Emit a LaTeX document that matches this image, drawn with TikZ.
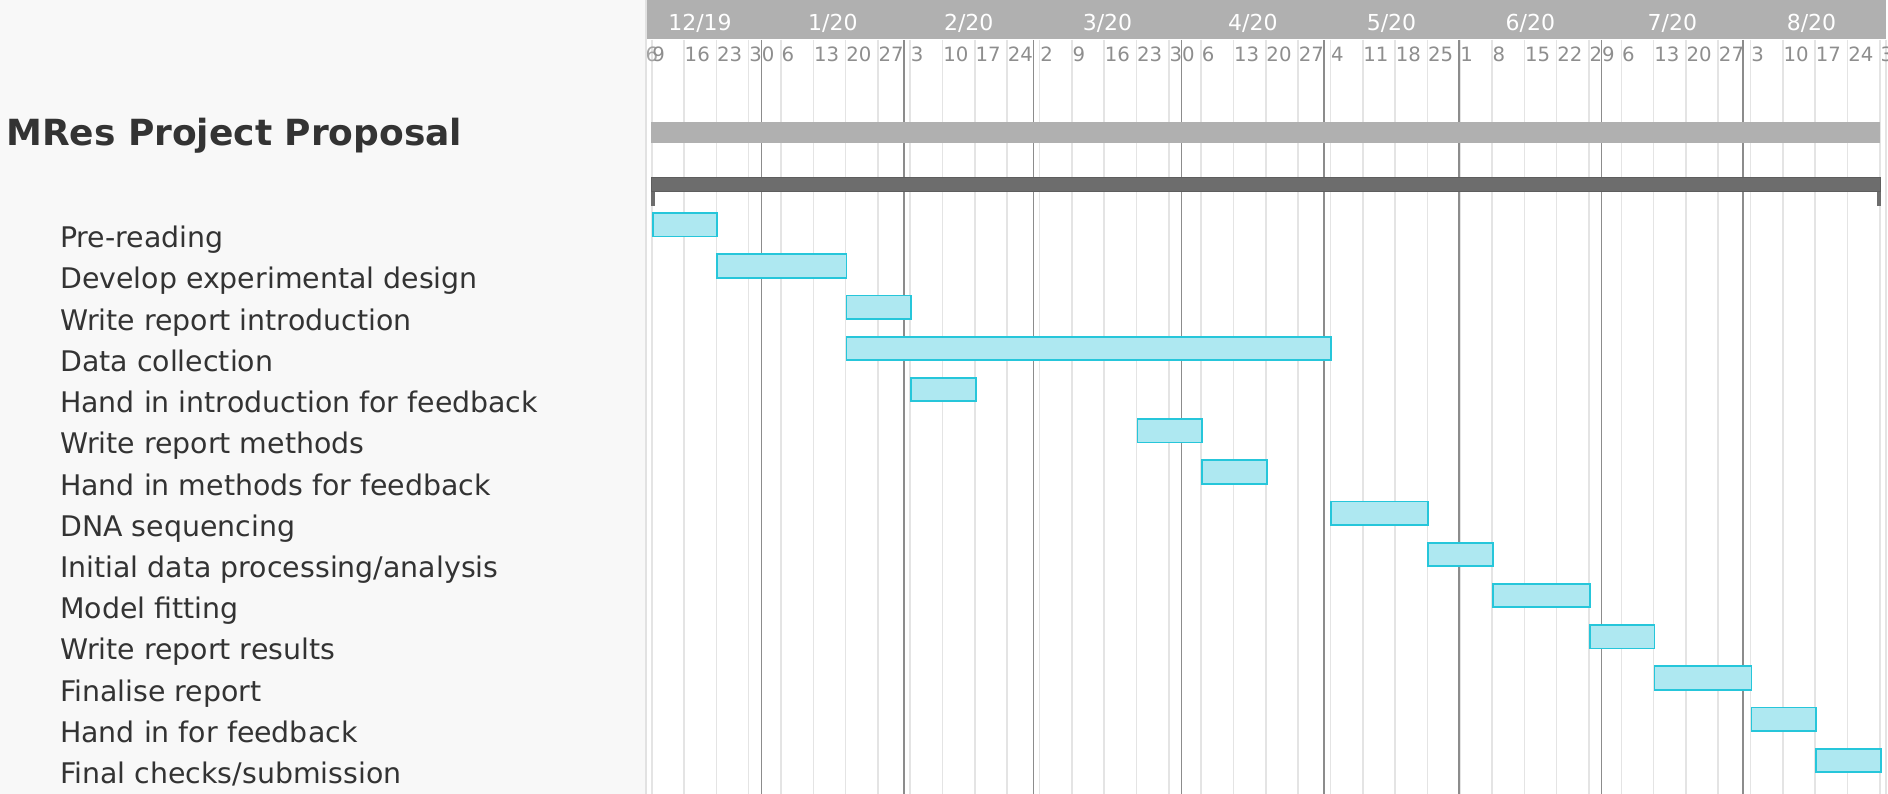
\documentclass[tikz,border=0pt]{standalone}
\usepackage{fontspec}
\setmainfont{DejaVu Sans}
\definecolor{panelbg}{HTML}{F8F8F8}
\definecolor{panelrule}{HTML}{E2E2E2}
\definecolor{headgray}{HTML}{B0B0B0}
\definecolor{weekgray}{HTML}{8E8E8E}
\definecolor{gridlight}{HTML}{E4E4E4}
\definecolor{griddark}{HTML}{8C8C8C}
\definecolor{textdark}{HTML}{333333}
\definecolor{barfill}{HTML}{AEE8F1}
\definecolor{barline}{HTML}{26C6DA}
\definecolor{groupfill}{HTML}{6D6D6D}
\definecolor{groupline}{HTML}{5E5E5E}
\newcommand{\wk}[1]{651.7+32.32*#1}
\newcommand{\rowy}[1]{224.8+41.2*(#1-1)}
\begin{document}
\begin{tikzpicture}[x=1pt,y=-1pt,
  tasklabel/.style={anchor=base west, inner sep=0pt, text=textdark, font=\fontsize{28.4}{32}\selectfont},
  titlelabel/.style={anchor=base west, inner sep=0pt, text=textdark, font=\fontsize{36}{40}\selectfont\bfseries},
  weeklabel/.style={anchor=base west, inner sep=0pt, text=weekgray, font=\fontsize{19.7}{22}\selectfont},
  monthlabel/.style={anchor=base, inner sep=0pt, text=white, font=\fontsize{22}{26}\selectfont},
  taskbar/.style={draw=barline, fill=barfill, line width=1.8pt, minimum height=23.4pt, inner sep=0pt, anchor=west},
  lightline/.style={draw=gridlight, line width=1.6pt},
  darkline/.style={draw=griddark, line width=1.4pt}
]
\useasboundingbox (0,0) rectangle (1888,794);
% left panel
\fill[panelbg] (0,0) rectangle (645,794);
\draw[panelrule, line width=2pt] (646,0) -- (646,794);
% chart region
\begin{scope}
\clip (647,0) rectangle (1887,794);
\fill[white] (647,0) rectangle (1887,794);
\fill[headgray] (647,0) rectangle (1886,39.5);
% weekly grid lines
\foreach \w in {0,...,38} {
  \draw[lightline] ({\wk{\w}},40) -- ({\wk{\w}},794);
}
\draw[lightline] (1886,40) -- (1886,794);
% month lines
\foreach \mx in {761.7,904,1033.3,1181.7,1324,1459,1601.7,1743} {
  \draw[darkline] (\mx,40) -- (\mx,794);
}
% month labels
\node[monthlabel] (m12) at (700,31) {12/19};
\node[monthlabel] (m1) at (832.9,31) {1/20};
\node[monthlabel] (m2) at (968.7,31) {2/20};
\node[monthlabel] (m3) at (1107.5,31) {3/20};
\node[monthlabel] (m4) at (1252.9,31) {4/20};
\node[monthlabel] (m5) at (1391.5,31) {5/20};
\node[monthlabel] (m6) at (1530.3,31) {6/20};
\node[monthlabel] (m7) at (1672.3,31) {7/20};
\node[monthlabel] (m8) at (1811.5,31) {8/20};
% week labels
\node[weeklabel, text=weekgray!80] (wstart) at (645.5,61.5) {6};
\foreach \w/\d in {0/9,1/16,2/23,3/30,4/6,5/13,6/20,7/27,8/3,9/10,10/17,11/24,12/2,13/9,14/16,15/23,16/30,17/6,18/13,19/20,20/27,21/4,22/11,23/18,24/25,25/1,26/8,27/15,28/22,29/29,30/6,31/13,32/20,33/27,34/3,35/10,36/17,37/24,38/31} {
  \node[weeklabel] (wl\w) at ({\wk{\w}+0.5},61.5) {\d};
}
% summary bars
\node[fill=headgray, inner sep=0pt, minimum width=1229pt, minimum height=21.6pt, anchor=west] (summary) at (651,132.5) {};
\node[fill=groupfill, draw=groupline, line width=0.8pt, inner sep=0pt, minimum width=1229pt, minimum height=14pt, anchor=north west] (group) at (651,177) {};
\fill[groupfill] (group.south west) rectangle ++(4,14);
\fill[groupfill] (group.south east) rectangle ++(-4,14);
% task bars
\node[taskbar, minimum width={32.32*2}] (b1) at ({\wk{0}},{\rowy{1}}) {};
\node[taskbar, minimum width={32.32*4}] (b2) at ({\wk{2}},{\rowy{2}}) {};
\node[taskbar, minimum width={32.32*2}] (b3) at ({\wk{6}},{\rowy{3}}) {};
\node[taskbar, minimum width={32.32*15}] (b4) at ({\wk{6}},{\rowy{4}}) {};
\node[taskbar, minimum width={32.32*2}] (b5) at ({\wk{8}},{\rowy{5}}) {};
\node[taskbar, minimum width={32.32*2}] (b6) at ({\wk{15}},{\rowy{6}}) {};
\node[taskbar, minimum width={32.32*2}] (b7) at ({\wk{17}},{\rowy{7}}) {};
\node[taskbar, minimum width={32.32*3}] (b8) at ({\wk{21}},{\rowy{8}}) {};
\node[taskbar, minimum width={32.32*2}] (b9) at ({\wk{24}},{\rowy{9}}) {};
\node[taskbar, minimum width={32.32*3}] (b10) at ({\wk{26}},{\rowy{10}}) {};
\node[taskbar, minimum width={32.32*2}] (b11) at ({\wk{29}},{\rowy{11}}) {};
\node[taskbar, minimum width={32.32*3}] (b12) at ({\wk{31}},{\rowy{12}}) {};
\node[taskbar, minimum width={32.32*2}] (b13) at ({\wk{34}},{\rowy{13}}) {};
\node[taskbar, minimum width={32.32*2}] (b14) at ({\wk{36}},{\rowy{14}}) {};
\end{scope}
% title and task labels
\node[titlelabel] (title) at (6,145.5) {MRes Project Proposal};
\node[tasklabel] (t1) at (60,{\rowy{1}+23}) {Pre-reading};
\node[tasklabel] (t2) at (60,{\rowy{2}+23}) {Develop experimental design};
\node[tasklabel] (t3) at (60,{\rowy{3}+23}) {Write report introduction};
\node[tasklabel] (t4) at (60,{\rowy{4}+23}) {Data collection};
\node[tasklabel] (t5) at (60,{\rowy{5}+23}) {Hand in introduction for feedback};
\node[tasklabel] (t6) at (60,{\rowy{6}+23}) {Write report methods};
\node[tasklabel] (t7) at (60,{\rowy{7}+23}) {Hand in methods for feedback};
\node[tasklabel] (t8) at (60,{\rowy{8}+23}) {DNA sequencing};
\node[tasklabel] (t9) at (60,{\rowy{9}+23}) {Initial data processing/analysis};
\node[tasklabel] (t10) at (60,{\rowy{10}+23}) {Model fitting};
\node[tasklabel] (t11) at (60,{\rowy{11}+23}) {Write report results};
\node[tasklabel] (t12) at (60,{\rowy{12}+23}) {Finalise report};
\node[tasklabel] (t13) at (60,{\rowy{13}+23}) {Hand in for feedback};
\node[tasklabel] (t14) at (60,{\rowy{14}+23}) {Final checks/submission};
\end{tikzpicture}
\end{document}
